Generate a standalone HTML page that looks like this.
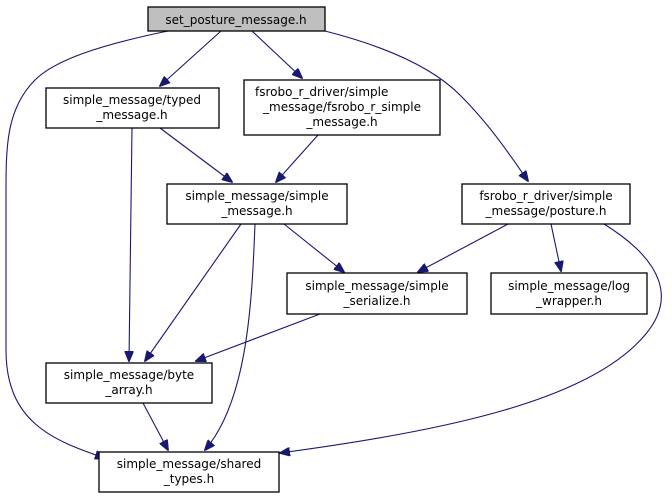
<!DOCTYPE html>
<html><head><meta charset="utf-8"><style>
html,body{margin:0;padding:0;background:#fff;}
svg{display:block;}
text{font-family:"DejaVu Sans","Liberation Sans",sans-serif;font-size:12px;fill:#000;}
.b{fill:#fff;stroke:#000;stroke-width:1.3;}
.e{fill:none;stroke:#191970;stroke-width:1.1;}
</style></head><body>
<svg width="672" height="499" viewBox="0 0 672 499" xmlns="http://www.w3.org/2000/svg">
<defs><marker id="a" markerWidth="11" markerHeight="9" refX="10" refY="4.5" orient="auto" markerUnits="userSpaceOnUse"><path d="M0,0 L11,4.5 L0,9 z" fill="#191970" stroke="#191970"/></marker></defs>
<path class="e" marker-end="url(#a)" d="M168,31 C100,45 55,60 35,80 C5,110 6,150 6,200 L6,350 C6,420 50,440 105,458"/>
<path class="e" marker-end="url(#a)" d="M221,31 L160,86"/>
<path class="e" marker-end="url(#a)" d="M252,31 L302,78"/>
<path class="e" marker-end="url(#a)" d="M325,31 C380,45 430,65 460,95 C490,125 510,155 528,181"/>
<path class="e" marker-end="url(#a)" d="M160,128 L232,182"/>
<path class="e" marker-end="url(#a)" d="M132,128 L129,361"/>
<path class="e" marker-end="url(#a)" d="M318,135 L276,182"/>
<path class="e" marker-end="url(#a)" d="M241,224 L145,361"/>
<path class="e" marker-end="url(#a)" d="M255,224 C252,300 248,400 205,450"/>
<path class="e" marker-end="url(#a)" d="M284,224 L344,272"/>
<path class="e" marker-end="url(#a)" d="M508,224 L418,272"/>
<path class="e" marker-end="url(#a)" d="M551,224 L561,271"/>
<path class="e" marker-end="url(#a)" d="M604,224 C665,262 675,300 645,335 C590,400 450,430 280,453"/>
<path class="e" marker-end="url(#a)" d="M320,314 L196,361"/>
<path class="e" marker-end="url(#a)" d="M143,403 L168,450"/>
<rect x="148" y="7" width="177" height="24" style="fill:#bfbfbf;stroke:#000;stroke-width:1.3"/>
<text x="236" y="24" text-anchor="middle">set_posture_message.h</text>
<rect class="b" x="46" y="88" width="173" height="40"/>
<text x="132" y="104" text-anchor="middle">simple_message/typed</text>
<text x="132" y="119" text-anchor="middle">_message.h</text>
<rect class="b" x="244" y="80" width="196" height="55"/>
<text x="255" y="96">fsrobo_r_driver/simple</text>
<text x="342" y="111" text-anchor="middle">_message/fsrobo_r_simple</text>
<text x="342" y="126" text-anchor="middle">_message.h</text>
<rect class="b" x="167" y="184" width="180" height="40"/>
<text x="257" y="200" text-anchor="middle">simple_message/simple</text>
<text x="257" y="215" text-anchor="middle">_message.h</text>
<rect class="b" x="462" y="184" width="168" height="40"/>
<text x="546" y="200" text-anchor="middle">fsrobo_r_driver/simple</text>
<text x="546" y="215" text-anchor="middle">_message/posture.h</text>
<rect class="b" x="287" y="273" width="180" height="41"/>
<text x="377" y="290" text-anchor="middle">simple_message/simple</text>
<text x="377" y="305" text-anchor="middle">_serialize.h</text>
<rect class="b" x="491" y="273" width="156" height="41"/>
<text x="569" y="290" text-anchor="middle">simple_message/log</text>
<text x="569" y="305" text-anchor="middle">_wrapper.h</text>
<rect class="b" x="46" y="363" width="166" height="40"/>
<text x="129" y="379" text-anchor="middle">simple_message/byte</text>
<text x="129" y="394" text-anchor="middle">_array.h</text>
<rect class="b" x="99" y="452" width="180" height="40"/>
<text x="189" y="468" text-anchor="middle">simple_message/shared</text>
<text x="189" y="483" text-anchor="middle">_types.h</text>
</svg>
</body></html>
